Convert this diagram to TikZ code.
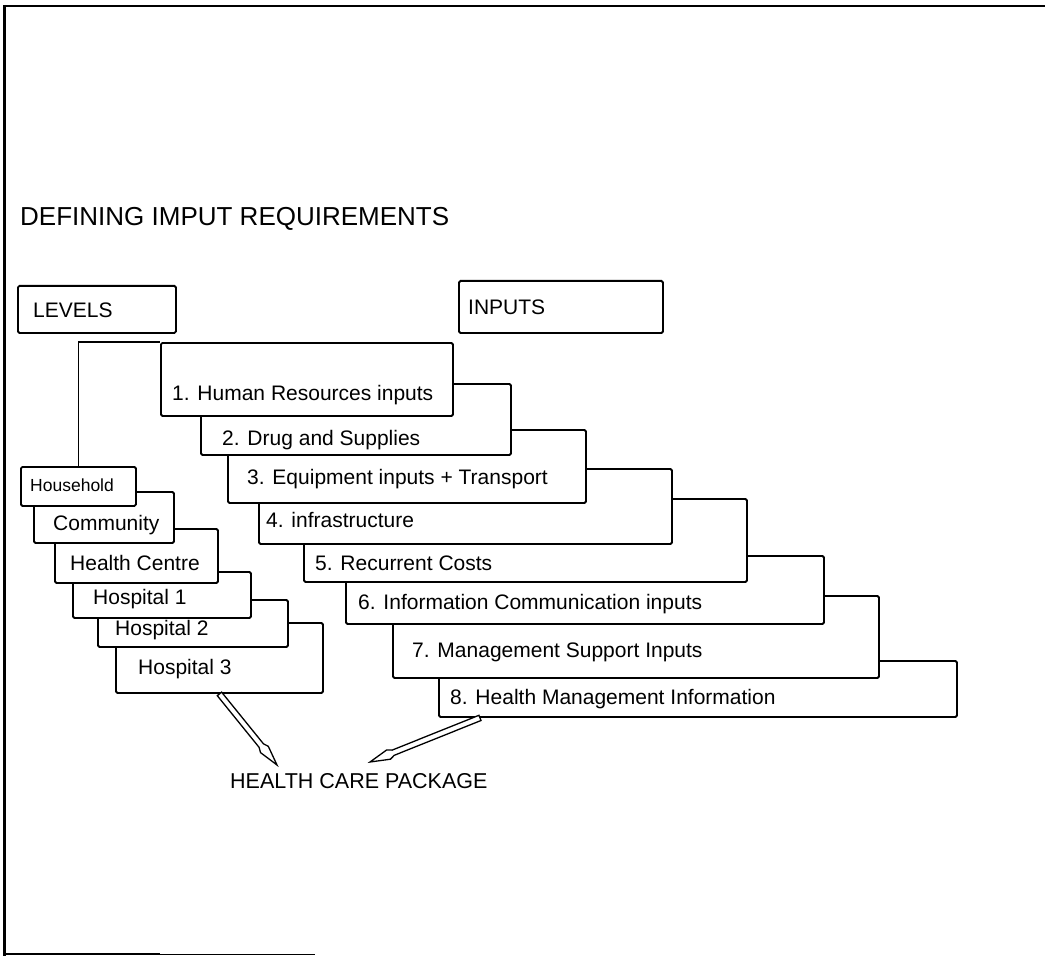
\documentclass[tikz,border=0pt]{standalone}
\usepackage{fontspec}
\setmainfont{Liberation Sans}
\usetikzlibrary{calc}

% hollow pencil-like arrow from #1 to #2
\newcommand{\pencil}[2]{%
  \coordinate (pa) at ($(#2)!25pt!(#1)$);
  \coordinate (pb) at ($(#2)!20pt!(#1)$);
  \draw[pen] ($(#1)!2.8pt!90:(#2)$) -- ($(pa)!2.8pt!90:(#2)$) -- ($(pb)!5pt!90:(#2)$) -- (#2)
    -- ($(pb)!5pt!-90:(#2)$) -- ($(pa)!2.8pt!-90:(#2)$) -- ($(#1)!2.8pt!-90:(#2)$) -- cycle;}

\begin{document}
\begin{tikzpicture}[x=1pt, y=-1pt,
  box/.style={draw, line width=1.9pt, rounded corners=1.5pt, fill=white, anchor=north west, inner sep=0pt},
  lbl/.style={anchor=base west, inner sep=0pt, font=\fontsize{21}{25}\selectfont},
  pen/.style={draw, line width=1.3pt, fill=white, line join=miter}
]
  \useasboundingbox (0,0) rectangle (1048,957);
  % frame
  \draw[line width=3pt] (4,5) -- (4,956);
  \draw[line width=1.8pt] (3,6) -- (1045,6);
  \draw[line width=1.8pt] (3,954) -- (160,954);
  \draw[line width=1pt] (160,954) -- (315,954);

  \node[lbl, font=\fontsize{26}{31}\selectfont] (title) at (20,226) {DEFINING IMPUT REQUIREMENTS};

  \node[box, minimum width=158pt, minimum height=47pt] (levels) at (17,285) {};
  \node[lbl] (levelst) at (33,317.5) {LEVELS};
  \node[box, minimum width=204pt, minimum height=52pt] (inputs) at (458,280) {};
  \node[lbl] (inputst) at (468,314.5) {INPUTS};

  % inputs, back to front
  \node[box, minimum width=518pt, minimum height=56pt] (in8) at (438,660) {};
  \node[lbl] (in8t) at (450,704.5) {8. Health Management Information};
  \node[box, minimum width=486pt, minimum height=82pt] (in7) at (392,595) {};
  \node[lbl] (in7t) at (412,657.5) {7. Management Support Inputs};
  \node[box, minimum width=478pt, minimum height=68pt] (in6) at (345,555) {};
  \node[lbl] (in6t) at (358,609.5) {6. Information Communication inputs};
  \node[box, minimum width=443pt, minimum height=83pt] (in5) at (303,498) {};
  \node[lbl] (in5t) at (315,570) {5. Recurrent Costs};
  \node[box, minimum width=413pt, minimum height=75pt] (in4) at (258,468) {};
  \node[lbl] (in4t) at (266,527.5) {4. infrastructure};
  \node[box, minimum width=358pt, minimum height=73pt] (in3) at (227,429) {};
  \node[lbl] (in3t) at (247,484.5) {3. Equipment inputs + Transport};
  \node[box, minimum width=310pt, minimum height=71pt] (in2) at (200,383) {};
  \node[lbl] (in2t) at (222,445.5) {2. Drug and Supplies};

  % levels, back to front
  \node[box, minimum width=207pt, minimum height=70pt] (hosp3) at (115,622) {};
  \node[lbl] (hosp3t) at (138,674.5) {Hospital 3};
  \node[box, minimum width=190pt, minimum height=47pt] (hosp2) at (97,599) {};
  \node[lbl] (hosp2t) at (115,635.5) {Hospital 2};
  \node[box, minimum width=178pt, minimum height=46pt] (hosp1) at (72,571) {};
  \node[lbl] (hosp1t) at (93,604.5) {Hospital 1};
  \node[box, minimum width=163pt, minimum height=54pt] (hc) at (54,528) {};
  \node[lbl] (hct) at (70,570) {Health Centre};
  \node[box, minimum width=140pt, minimum height=51pt] (comm) at (33,491) {};
  \node[lbl] (commt) at (53,530.5) {Community};
  \node[box, minimum width=115pt, minimum height=39pt] (house) at (20,466) {};
  \node[lbl, font=\fontsize{17.5}{21}\selectfont] (houset) at (30,491.5) {Household};

  \node[box, minimum width=292pt, minimum height=73pt] (in1) at (160,342) {};
  \node[lbl] (in1t) at (172,400.5) {1. Human Resources inputs};
  \draw[line width=1.9pt] (in1.north west) -| (house.north);

  \node[lbl, font=\fontsize{21.5}{26}\selectfont] (pkg) at (230,788) {HEALTH CARE PACKAGE};
  \coordinate (pkgL) at (277,765);
  \coordinate (pkgR) at (370,762);
  \coordinate (in8a) at ([xshift=42pt]in8.south west);
  \pencil{hosp3.south}{pkgL}
  \pencil{in8a}{pkgR}
\end{tikzpicture}
\end{document}
